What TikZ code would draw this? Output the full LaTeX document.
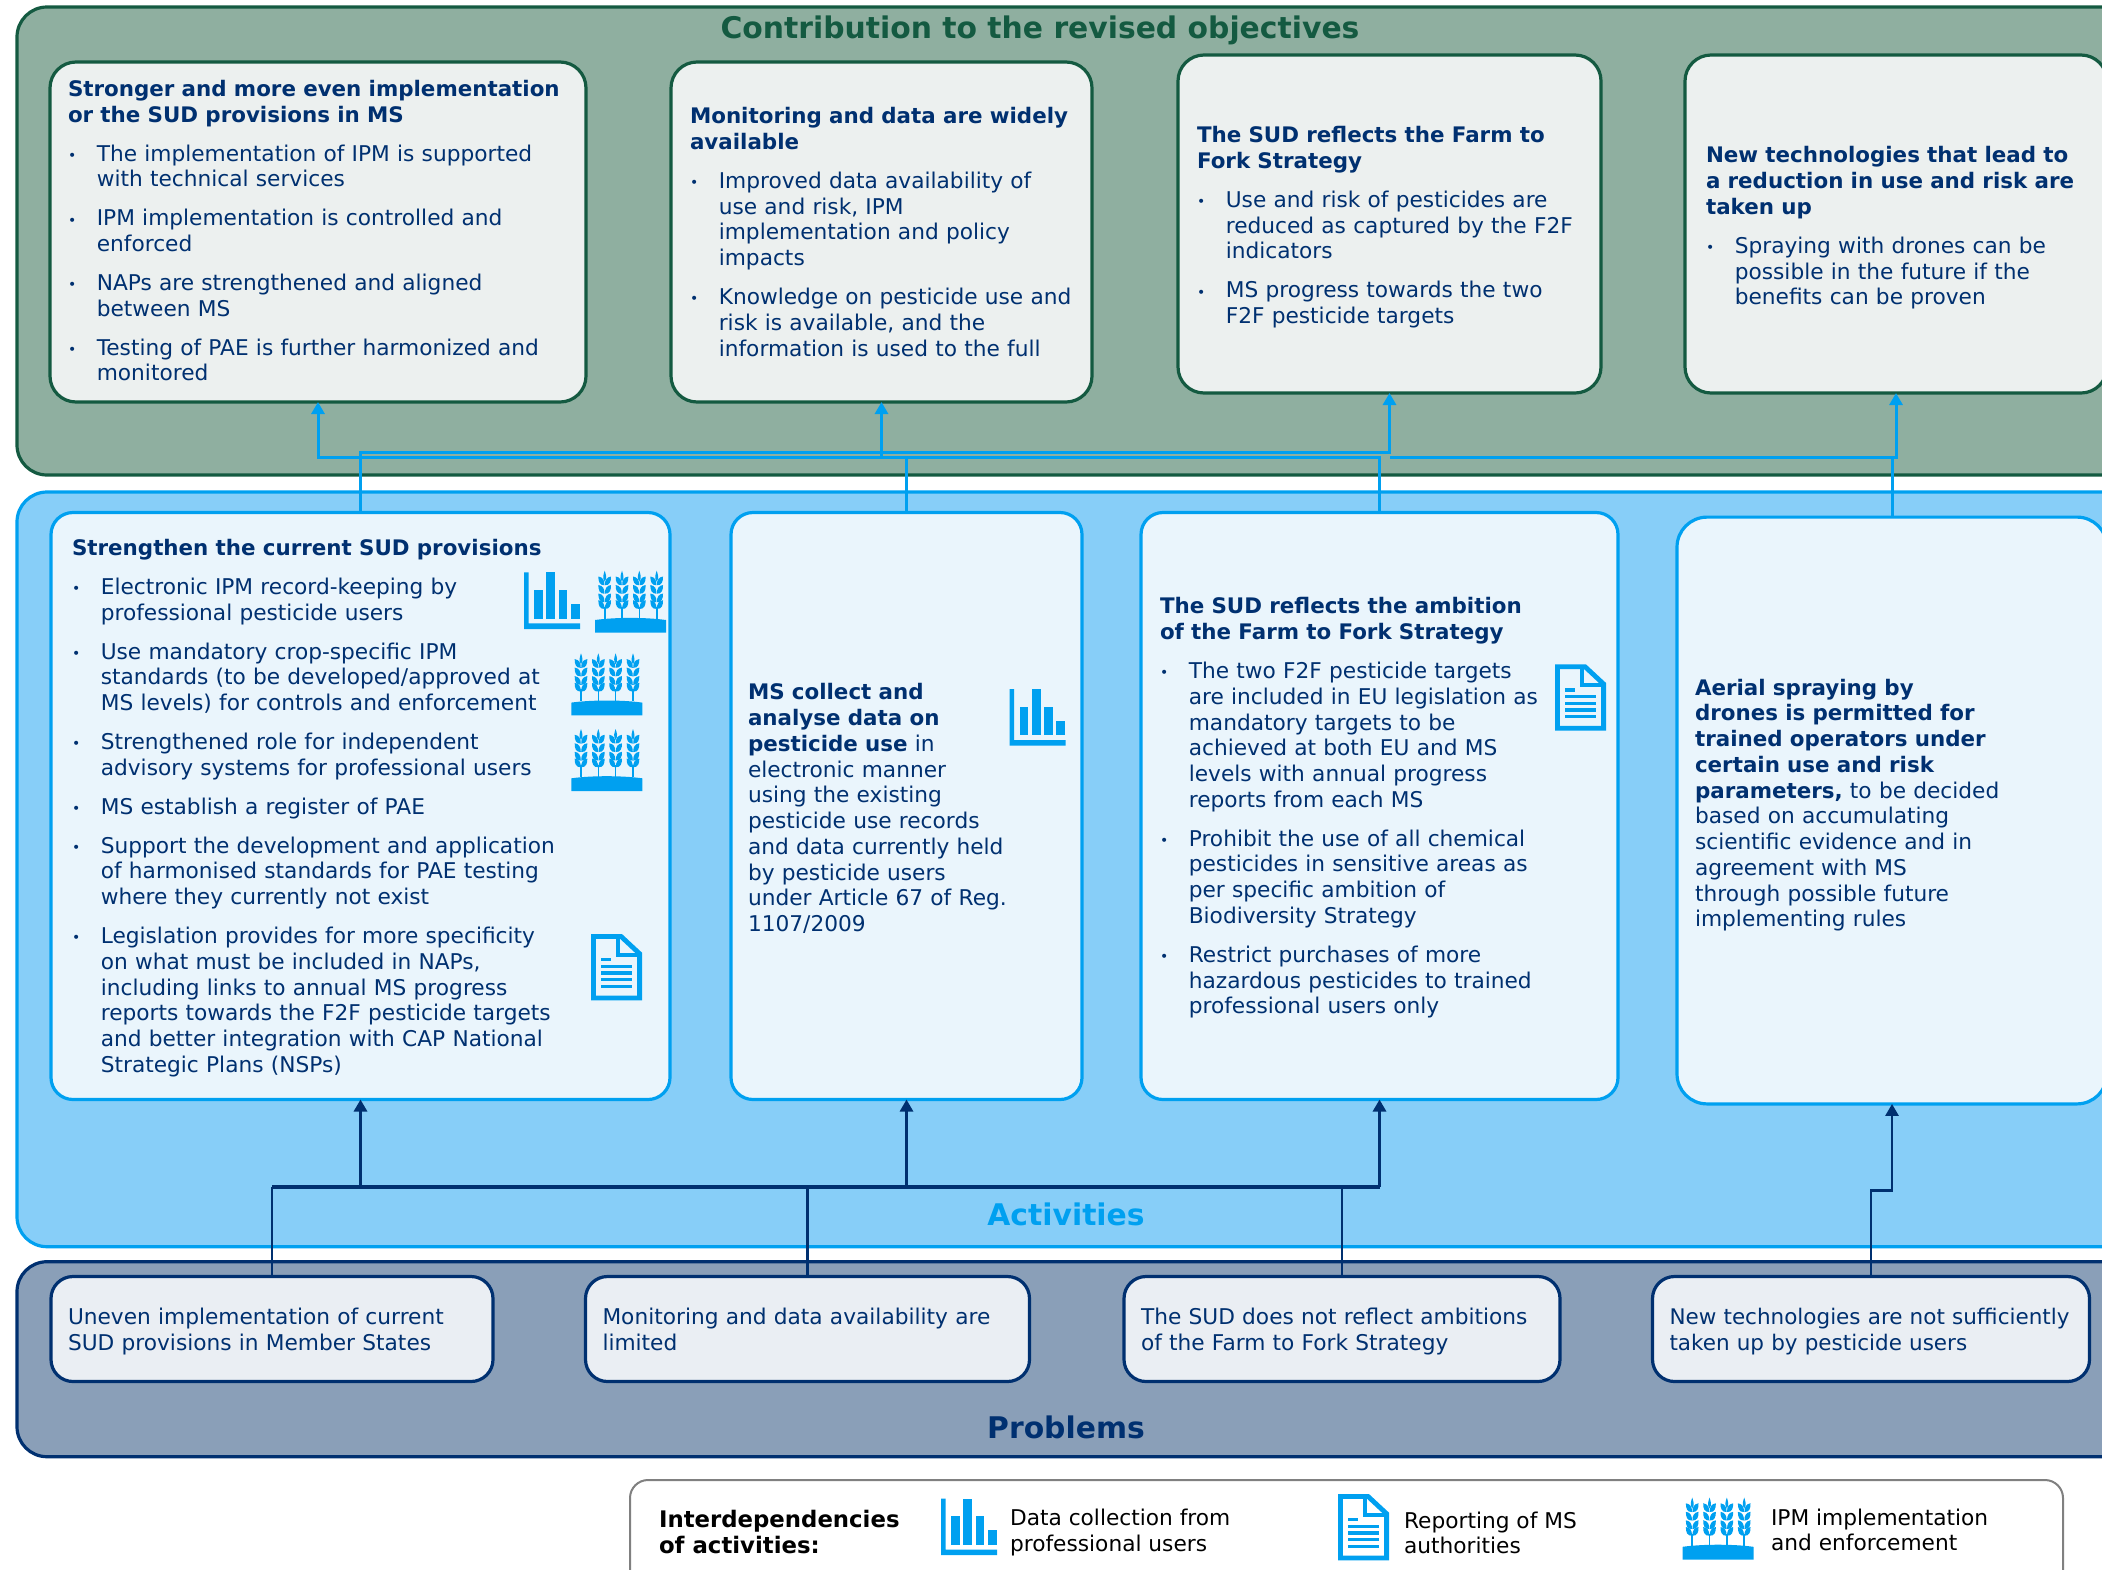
\documentclass[tikz,border=0pt]{standalone}
\usepackage{fontspec}
\setmainfont{DejaVu Sans}
\usetikzlibrary{arrows.meta, calc, positioning}

\definecolor{navy}{HTML}{003070}
\definecolor{leaf}{HTML}{145A41}
\definecolor{sky}{HTML}{00A0F0}
\newcommand{\itm}{\par\vspace{6.6pt}\let\\\newline\hangindent=14.4pt\hangafter=0\noindent\llap{\makebox[14.4pt][l]{\raisebox{0.4pt}{\scriptsize •}}}}
\newcommand{\hd}[1]{{\fontsize{10.7}{12.87}\selectfont\bfseries #1}}
\newcommand{\sink}[1]{\rule{0pt}{#1pt}}
\newcommand{\lift}[1]{\rule[-#1pt]{0pt}{0pt}}

\tikzset{
    anybox/.style = {draw, rounded corners = 13pt, line width = 1.6pt, inner xsep = 9.5pt, inner ysep = 0pt, outer sep = 0pt, align = left, text = navy, font = \fontsize{10.85}{12.87}\selectfont},
    gbox/.style = {anybox, draw = leaf, fill = {rgb,255:red,236;green,240;blue,239}},
    bbox/.style = {anybox, draw = sky, fill = {rgb,255:red,234;green,245;blue,252}, rounded corners = 11pt},
    pbox/.style = {anybox, draw = navy, fill = {rgb,255:red,234;green,238;blue,243}, rounded corners = 11pt, inner xsep = 8.5pt},
    bandtext/.style = {font = \fontsize{14.9}{16}\selectfont\bfseries},
    keytext/.style = {anchor = west, align = left, text = black, font = \fontsize{10.85}{12.87}\selectfont},
    upline/.style = {draw = sky, line width = 1.5pt, -{Triangle[length = 6pt, width = 6.5pt]}},
    upplain/.style = {draw = sky, line width = 1.5pt},
    downarrow/.style = {draw = navy, line width = 1.35pt, -{Triangle[length = 6pt, width = 6.5pt]}},
    downthick/.style = {draw = navy, line width = 1.9pt},
    chart/.pic = {
        \fill[sky] (0,0) -- (4.7,0) -- (4.7,51) -- (56,51) -- (56,56.7) -- (0,56.7) -- cycle;
        \fill[sky] (10,17.7) rectangle (18.7,46.3);
        \fill[sky] (22,0) rectangle (31,46.3);
        \fill[sky] (34.7,17.7) rectangle (43.3,46.3);
        \fill[sky] (46.7,31.7) rectangle (55.7,46.3);
    },
    report/.pic = {
        \draw[sky, line width = 2.4pt, line join = miter] (2.4,2.4) -- (30,2.4) -- (48.6,19.7) -- (48.6,63.9) -- (2.4,63.9) -- cycle;
        \draw[sky, line width = 2.1pt] (27,3) -- (27,21) -- (48,21);
        \draw[sky, line width = 1.7pt] (10,25.7) -- (20,25.7);
        \foreach \y in {32.3,39,45.7,52.3}
            \draw[sky, line width = 1.7pt] (10,\y) -- (41,\y);
    },
    wheat/.pic = {
        \foreach \sx in {9.7,27,44.3,61.7} {
            \begin{scope}[shift = {(\sx,0)}]
                \fill[sky] (0,0) .. controls (1.2,4) and (2.6,7) .. (0,11) .. controls (-2.6,7) and (-1.2,4) .. cycle;
                \draw[sky, line width = 0.8pt] (0,36) -- (0,48);
                \foreach \y in {9,17.5,26,32.7}
                    \foreach \s in {-1,1}
                        \fill[sky] (\s*0.2,\y+5.5) .. controls (\s*5,\y+6) and (\s*6.6,\y+1.5) .. (\s*6.3,\y-3.2) .. controls (\s*2,\y-2.5) and (\s*0.2,\y) .. cycle;
            \end{scope}
        }
        \fill[sky] (0,49.3) .. controls (20,46.5) and (51,46.5) .. (71,49.3) -- (71,62) -- (0,62) -- cycle;
    }
}

\begin{document}
\begin{tikzpicture}[x = 0.5pt, y = -0.5pt]
    \clip (0,0) rectangle (2102,1569);

    \draw[leaf, line width = 1.6pt, fill = {rgb,255:red,143;green,175;blue,160}, rounded corners = 15pt] (17,7) rectangle (2200,475);
    \draw[sky, line width = 1.6pt, fill = {rgb,255:red,135;green,206;blue,248}, rounded corners = 15pt] (17,492) rectangle (2200,1246.7);
    \draw[navy, line width = 1.6pt, fill = {rgb,255:red,138;green,159;blue,184}, rounded corners = 15pt] (17,1261.7) rectangle (2200,1456.7);
    \draw[gray, line width = 1pt, fill = white, rounded corners = 9pt] (630,1480) rectangle (2063,1640);

    \node[bandtext, text = leaf] (contrib) at (1040,30) {Contribution to the revised objectives};
    \node[bandtext, text = sky] (activities) at (1066,1214) {Activities};
    \node[bandtext, text = navy] (problems) at (1066,1427) {Problems};

    \node[gbox, inner xsep = 9pt, text width = 250pt, minimum height = 170pt] (g1) at (318,232) {\hd{Stronger and more even implementation\\or the SUD provisions in MS}
        \itm The implementation of IPM is supported\\with technical services
        \itm IPM implementation is controlled and\\enforced
        \itm NAPs are strengthened and aligned\\between MS
        \itm Testing of PAE is further harmonized and\\monitored\lift{1.4}\par};
    \node[gbox, text width = 191.5pt, minimum height = 170pt] (g2) at (881.5,232) {\hd{Monitoring and data are widely\\available}
        \itm Improved data availability of\\use and risk, IPM\\implementation and policy\\impacts
        \itm Knowledge on pesticide use and\\risk is available, and the\\information is used to the full\par};
    \node[gbox, text width = 192.5pt, minimum height = 169pt] (g3) at (1389.5,224) {\sink{11.5}\hd{The SUD reflects the Farm to\\Fork Strategy}
        \itm Use and risk of pesticides are\\reduced as captured by the F2F\\indicators
        \itm MS progress towards the two\\F2F pesticide targets\par};
    \node[gbox, inner xsep = 10.5pt, text width = 190pt, minimum height = 169pt] (g4) at (1896,224) {\sink{12.1}\hd{New technologies that lead to\\a reduction in use and risk are\\taken up}
        \itm Spraying with drones can be\\possible in the future if the\\benefits can be proven\par};

    \node[bbox, inner xsep = 10.5pt, text width = 288.5pt, minimum height = 293.5pt] (b1) at (360.5,806) {\sink{10.1}\hd{Strengthen the current SUD provisions}
        \itm Electronic IPM record-keeping by\\professional pesticide users
        \itm Use mandatory crop-specific IPM\\standards (to be developed/approved at\\MS levels) for controls and enforcement
        \itm Strengthened role for independent\\advisory systems for professional users
        \itm MS establish a register of PAE
        \itm Support the development and application\\of harmonised standards for PAE testing\\where they currently not exist
        \itm Legislation provides for more specificity\\on what must be included in NAPs,\\including links to annual MS progress\\reports towards the F2F pesticide targets\\and better integration with CAP National\\Strategic Plans (NSPs)\par};
    \node[bbox, inner xsep = 8.5pt, text width = 158.5pt, minimum height = 293.5pt] (b2) at (906.5,806) {\sink{10.8}\hd{MS collect and\\analyse data on\\pesticide use} in\\electronic manner\\using the existing\\pesticide use records\\and data currently held\\by pesticide users\\under Article 67 of Reg.\\1107/2009};
    \node[bbox, text width = 219.5pt, minimum height = 293.5pt] (b3) at (1379.5,806) {\sink{10.1}\hd{The SUD reflects the ambition\\of the Farm to Fork Strategy}
        \itm The two F2F pesticide targets\\are included in EU legislation as\\mandatory targets to be\\achieved at both EU and MS\\levels with annual progress\\reports from each MS
        \itm Prohibit the use of all chemical\\pesticides in sensitive areas as\\per specific ambition of\\Biodiversity Strategy
        \itm Restrict purchases of more\\hazardous pesticides to trained\\professional users only\par};
    \node[bbox, inner xsep = 9pt, text width = 197pt, minimum height = 293.4pt, rounded corners = 15pt] (b4) at (1892,810.5) {\hd{Aerial spraying by\\drones is permitted for\\trained operators under\\certain use and risk\\parameters,} to be decided\\based on accumulating\\scientific evidence and in\\agreement with MS\\through possible future\\implementing rules\lift{7.6}};

    \node[pbox, text width = 204pt, minimum height = 52.5pt] (p1) at (272,1329) {\sink{10.7}Uneven implementation of current\\SUD provisions in Member States\lift{2.3}};
    \node[pbox, text width = 205pt, minimum height = 52.5pt] (p2) at (807.5,1329) {\sink{10.7}Monitoring and data availability are\\limited\lift{2.3}};
    \node[pbox, text width = 201pt, minimum height = 52.5pt] (p3) at (1342,1329) {\sink{10.7}The SUD does not reflect ambitions\\of the Farm to Fork Strategy\lift{2.3}};
    \node[pbox, text width = 201.5pt, minimum height = 52.5pt, font = \fontsize{10.75}{12.87}\selectfont] (p4) at (1871,1329) {\sink{10.7}New technologies are not sufficiently\\taken up by pesticide users\lift{2.3}};

    \coordinate (upper) at (0,452.7);
    \coordinate (lower) at (0,457.3);
    \coordinate (navybus) at (0,1187);
    \coordinate (step) at (0,1190.7);

    \draw[upline] (b1.north) -- (b1.north |- upper) -- (g3.south |- upper) -- (g3.south);
    \draw[upline] (b3.north) -- (b3.north |- lower) -- (g1.south |- lower) -- (g1.south);
    \draw[upline] (b2.north) -- (b2.north |- lower) -- (g2.south |- lower) -- (g2.south);
    \draw[upline] (b4.north) -- (b4.north |- lower) -- (g4.south |- lower) -- (g4.south);
    \draw[upplain] (b4.north |- lower) -- (g3.south |- lower);

    \draw[downarrow, -] (p1.north) -- (p1.north |- navybus);
    \draw[downarrow, -] (p2.north) -- (p2.north |- navybus);
    \draw[downarrow, -] (p3.north) -- (p3.north |- navybus);
    \draw[downthick] (p1.north |- navybus) -- (b3.south |- navybus);
    \draw[downthick, -{Triangle[length = 6pt, width = 6.5pt]}] (b1.south |- navybus) -- (b1.south);
    \draw[downarrow] (b2.south |- navybus) -- (b2.south);
    \draw[downthick, -{Triangle[length = 6pt, width = 6.5pt]}] (b3.south |- navybus) -- (b3.south);
    \draw[downarrow] (p4.north) -- (p4.north |- step) -- (b4.south |- step) -- (b4.south);

    \pic at (524,572.3) {chart};
    \pic at (1009.5,689) {chart};
    \pic at (595,570.7) {wheat};
    \pic at (571.3,653.3) {wheat};
    \pic at (571.3,729) {wheat};
    \pic at (591,934) {report};
    \pic at (1555,664.3) {report};

    \node[keytext, font = \fontsize{11.4}{13.2}\selectfont\bfseries] (keytitle) at (652,1532) {Interdependencies\\of activities:};
    \pic at (941,1498.5) {chart};
    \node[keytext] (keychart) at (1003,1532.7) {Data collection from\\professional users};
    \pic at (1338,1494) {report};
    \node[keytext] (keyreport) at (1397,1533) {Reporting of MS\\authorities};
    \pic at (1682.5,1497.5) {wheat};
    \node[keytext] (keywheat) at (1764,1530) {IPM implementation\\and enforcement};
\end{tikzpicture}
\end{document}
